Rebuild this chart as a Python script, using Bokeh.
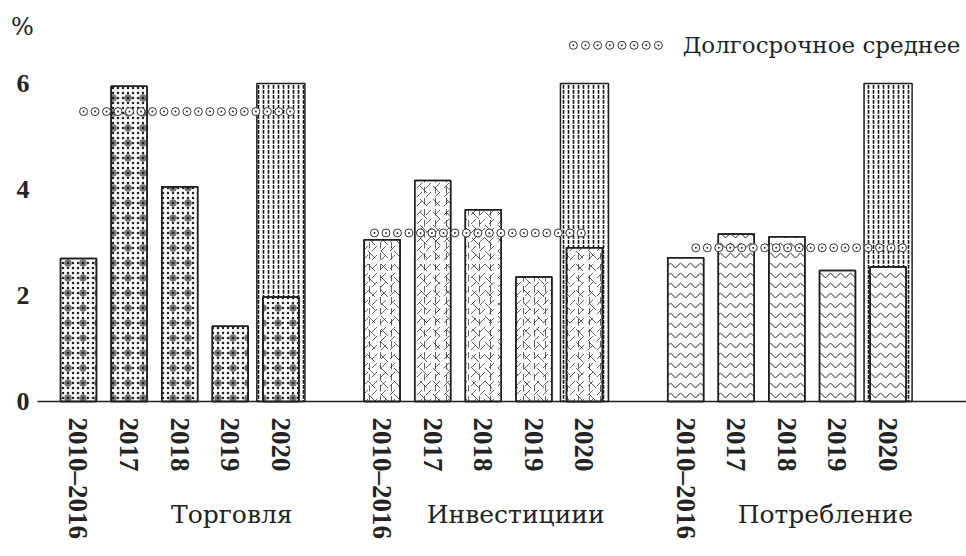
import numpy as np
from bokeh.plotting import figure
from bokeh.models import FixedTicker, Label, Range1d
from bokeh.embed import file_html
from bokeh.resources import INLINE

# ---------------- data ----------------
groups = ["Торговля", "Инвестициии", "Потребление"]
periods = ["2010–2016", "2017", "2018", "2019", "2020"]
trade = [2.70, 5.95, 4.05, 1.42, 1.97]
invest = [3.05, 4.17, 3.62, 2.35, 2.90]
consum = [2.71, 3.16, 3.11, 2.47, 2.54]
long_avg = [5.47, 3.18, 2.90]
cap_2020 = [6.0, 6.0, 6.0]
y_ticks = [0, 2, 4, 6]
legend_text = "Долгосрочное среднее"
unit_text = "%"

series = [trade, invest, consum]

# ---------------- layout ----------------
GROUP_STEP = 6
BAR_W = 0.71
CAP_W = 0.95
X0 = -0.81          # left end of the baseline / y-axis position
INK = "#1e1e1e"
TXT = "#222222"
SERIF = "DejaVu Serif"
SERIF_B = "Liberation Serif"

p = figure(width=966, height=556, output_backend="svg", toolbar_location=None,
           title=None, x_range=Range1d(-1.5415, 17.55),
           y_range=Range1d(-2.9245, 7.566), min_border=0,
           min_border_left=0, min_border_right=0, min_border_top=0,
           min_border_bottom=0)
p.outline_line_color = None
p.grid.visible = False
p.background_fill_color = "white"
p.border_fill_color = "white"

# x axis (years), drawn at y = 0 inside the frame
xs_all, labels_all = [], []
for g in range(len(groups)):
    for i, per in enumerate(periods):
        xs_all.append(g * GROUP_STEP + i)
        labels_all.append(per)
xa = p.xaxis[0]
xa.fixed_location = 0
xa.bounds = (X0, 17.55)
xa.ticker = FixedTicker(ticks=xs_all)
xa.major_label_overrides = {float(x): l for x, l in zip(xs_all, labels_all)}
xa.major_label_orientation = "vertical"
xa.major_tick_line_color = None
xa.major_tick_out = 0
xa.major_tick_in = 0
xa.minor_tick_line_color = None
xa.axis_line_color = INK
xa.axis_line_width = 1.5
xa.major_label_standoff = 16
xa.major_label_text_font = SERIF_B
xa.major_label_text_font_style = "bold"
xa.major_label_text_font_size = "27px"
xa.major_label_text_color = TXT

ya = p.yaxis[0]
ya.fixed_location = X0
ya.ticker = FixedTicker(ticks=y_ticks)
ya.axis_line_color = None
ya.major_tick_line_color = None
ya.minor_tick_line_color = None
ya.major_tick_out = 0
ya.major_tick_in = 0
ya.major_label_standoff = 8
ya.major_label_text_font = SERIF_B
ya.major_label_text_font_style = "bold"
ya.major_label_text_font_size = "26px"
ya.major_label_text_color = TXT

# hatch layers per group
hatches = [
    [dict(hatch_pattern="dot", hatch_scale=5, hatch_weight=0.6),
     dict(hatch_pattern="dot", hatch_scale=15, hatch_weight=0.5, hatch_alpha=0.6)],
    [dict(hatch_pattern="right_diagonal_dash", hatch_scale=9, hatch_weight=0.7),
     dict(hatch_pattern="left_diagonal_dash", hatch_scale=13, hatch_weight=0.7),
     dict(hatch_pattern="vertical_dash", hatch_scale=11, hatch_weight=0.7)],
    [dict(hatch_pattern="horizontal_wave", hatch_scale=10, hatch_weight=1)],
]

for g, vals in enumerate(series):
    base = g * GROUP_STEP
    # 2020 background bar (to the top of the scale)
    xcap = base + 4
    p.vbar(x=[xcap], top=[cap_2020[g]], bottom=0, width=CAP_W, fill_color="white",
           line_color=INK, line_width=1.5, hatch_pattern="vertical_dash",
           hatch_scale=5, hatch_weight=1.6, hatch_color="#111111")
    xs = [base + i for i in range(len(vals))]
    p.vbar(x=xs, top=vals, bottom=0, width=BAR_W, fill_color="white",
           line_color=INK, line_width=1.5)
    for h in hatches[g]:
        p.vbar(x=xs, top=vals, bottom=0, width=BAR_W, fill_alpha=0,
               line_color=None, hatch_color=INK, **h)
    p.vbar(x=xs, top=vals, bottom=0, width=BAR_W, fill_alpha=0,
           line_color=INK, line_width=1.5)

# long-term average: row of dotted circles
avg_start = [0.10, -0.15, 0.20]
avg_end = [4.20, 3.95, 4.30]
for g, a in enumerate(long_avg):
    base = g * GROUP_STEP
    mx = np.arange(base + avg_start[g], base + avg_end[g] + 1e-6, 0.227)
    p.scatter(x=mx, y=[a] * len(mx), marker="circle_dot", size=8,
              line_color="#333333", line_width=1, fill_color="white")

# legend
lx = 9.78 + 0.24 * np.arange(8)
p.scatter(x=lx, y=[6.72] * len(lx), marker="circle_dot", size=8,
          line_color="#333333", line_width=1, fill_color="white")
p.add_layout(Label(x=11.94, y=6.72, text=legend_text, text_font=SERIF,
                   text_font_size="23px", text_color=TXT, text_baseline="middle",
                   text_align="left"))

# unit label
p.add_layout(Label(x=-1.107, y=7.057, text=unit_text, text_font=SERIF,
                   text_font_size="24px", text_color=TXT, text_baseline="middle",
                   text_align="center"))

# group labels
group_x = [3.03, 8.64, 14.76]
for gx, name in zip(group_x, groups):
    p.add_layout(Label(x=gx, y=-2.13, text=name, text_font=SERIF,
                       text_font_size="25px", text_color=TXT,
                       text_baseline="alphabetic", text_align="center"))

open("out.html", "w").write(file_html(p, INLINE))
